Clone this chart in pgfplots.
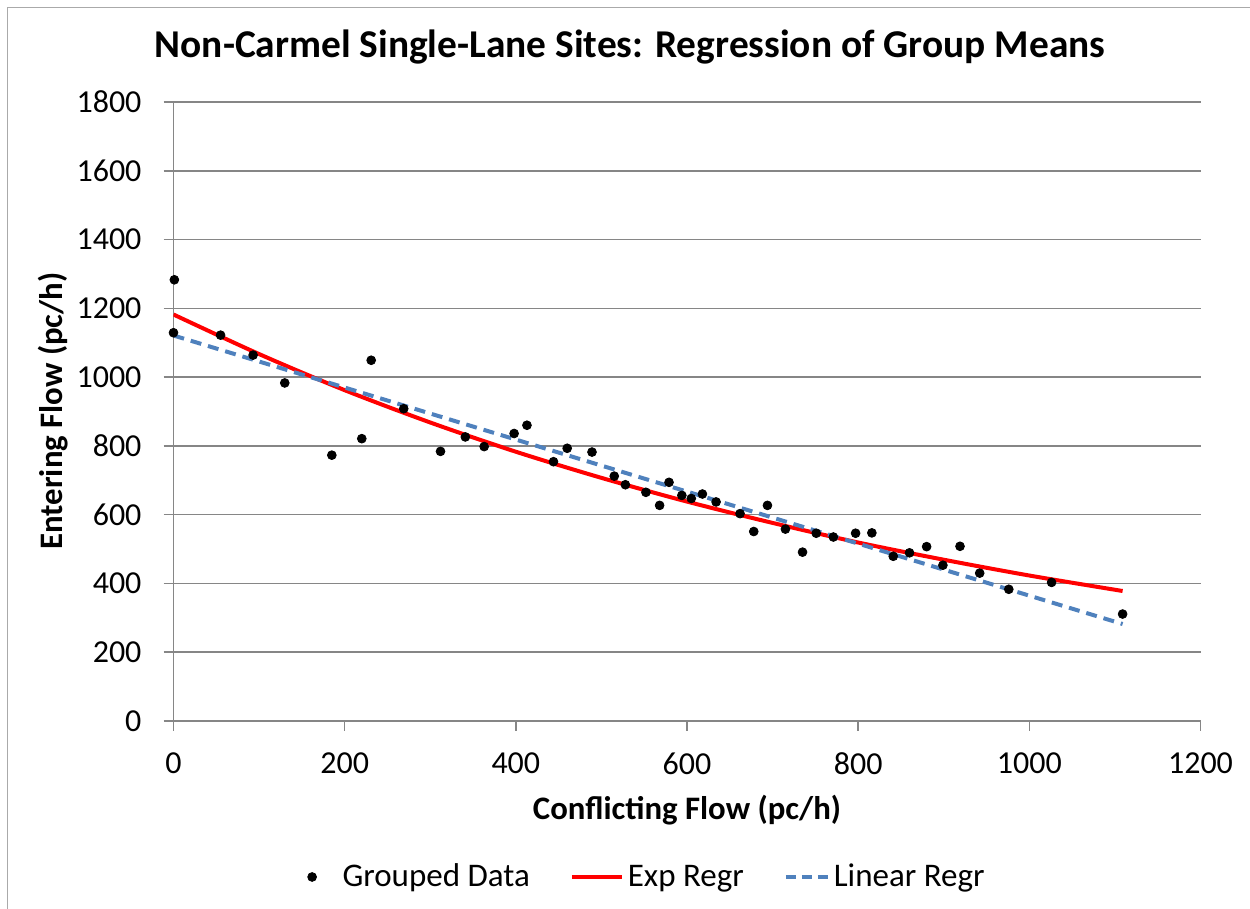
\documentclass[border=0pt]{standalone}
\usepackage{fontspec}
\setmainfont{Carlito}
\usepackage{pgfplots}
\pgfplotsset{compat=1.18}
\definecolor{gridgray}{RGB}{134,134,134}
\definecolor{linblue}{RGB}{79,129,189}

\begin{document}
\begin{tikzpicture}[x=1pt,y=1pt]
\path[use as bounding box] (0,0) rectangle (625,454.5);
% outer chart frame (only top and left edges are visible)
\draw[gridgray!70, line width=0.75pt] (3.75,0) -- (3.75,450.75) -- (625,450.75);

\node[font=\fontsize{19.7}{22}\selectfont\bfseries] at (315,431) {Non-Carmel Single-Lane Sites: Regression of Group Means};
\node[font=\fontsize{16.4}{18}\selectfont\bfseries] at (343.5,49.5) {Conflicting Flow (pc/h)};
\node[font=\fontsize{16.4}{18}\selectfont\bfseries, rotate=90] at (26.5,249) {Entering Flow (pc/h)};

\begin{axis}[
  at={(86.75pt,94pt)}, anchor=south west,
  width=513.5pt, height=309.5pt, scale only axis,
  xmin=0, xmax=1200, ymin=0, ymax=1800,
  xtick={0,200,...,1200}, ytick={0,200,...,1800},
  axis lines*=left,
  axis line style={gridgray, line width=0.75pt, -},
  ymajorgrids,
  major grid style={gridgray, line width=0.75pt},
  tick align=outside,
  major tick length=5pt,
  tick style={gridgray, line width=0.75pt},
  ticklabel style={font=\fontsize{16}{18}\selectfont},
  xticklabel style={yshift=-7.5pt},
  yticklabel style={xshift=-7.5pt},
  /pgf/number format/assume math mode=true,
  /pgf/number format/1000 sep={},
  legend style={at={(0.462,-0.252)}, anchor=center, draw=none,
    font=\fontsize{16.5}{18}\selectfont, legend columns=3,
    /tikz/every even column/.append style={column sep=18pt}},
  legend cell align=left,
]
% Grouped Data
\addplot[only marks, mark=*, mark size=2.2pt, black,
  legend image code/.code={\fill[black] (0pt,0pt) circle (2.2pt); \path (13pt,0pt);}]
coordinates {
  (1,1283) (0,1129) (55,1122) (93,1064) (130,983) (185,773) (220,821)
  (231,1049) (269,908) (312,784) (341,826) (363,798) (398,836) (413,860)
  (444,754) (460,793) (489,782) (515,712) (528,687) (552,665) (568,627)
  (579,694) (594,656) (605,647) (618,660) (634,637) (662,603) (678,551)
  (694,627) (715,558) (735,491) (751,546) (771,535) (797,546) (816,547)
  (841,479) (860,489) (880,507) (899,453) (919,508) (942,430) (976,383)
  (1026,403) (1109,311)
};
\addlegendentry{Grouped Data}

% Exp Regr
\addplot[red, line width=2pt, smooth,
  legend image code/.code={\draw[red, line width=2pt] (-6pt,0pt) -- (19pt,0pt);}]
coordinates {
  (0,1182) (100,1067) (200,962) (300,868) (400,783) (500,707) (600,638)
  (700,576) (800,519) (900,469) (1000,423) (1109,378)
};
\addlegendentry{Exp Regr}

% Linear Regr
\addplot[linblue, line width=2pt, dash pattern=on 5.5pt off 3.5pt,
  legend image code/.code={\draw[linblue, line width=2pt, dash pattern=on 5pt off 3pt] (-2pt,0pt) -- (19pt,0pt);}]
coordinates {
  (0,1121) (1109,282)
};
\addlegendentry{Linear Regr}
\end{axis}
\end{tikzpicture}
\end{document}
